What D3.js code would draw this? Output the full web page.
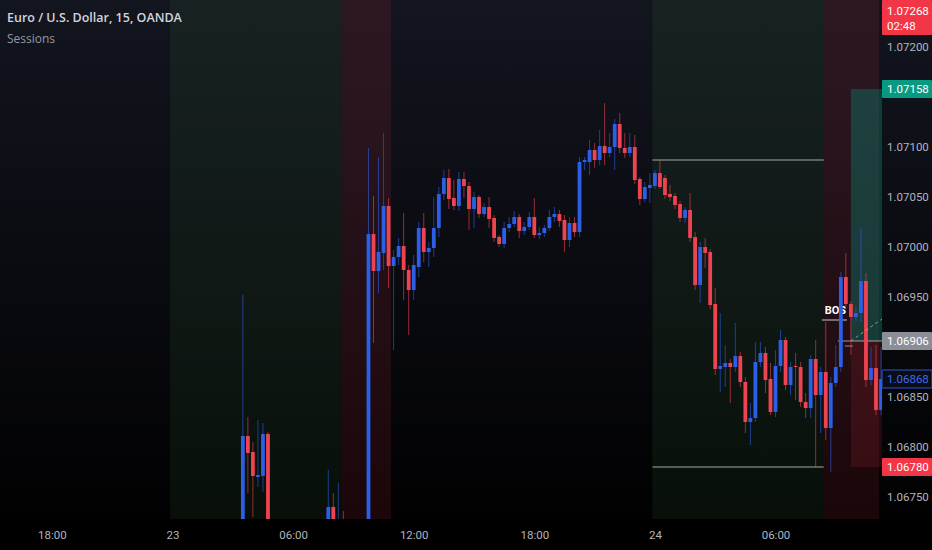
<!DOCTYPE html>
<html><head><meta charset="utf-8">
<script src="https://cdn.jsdelivr.net/npm/d3@7"></script>
<style>html,body{margin:0;padding:0;background:#000;}svg{display:block;}</style>
</head><body>
<svg id="chart" width="932" height="550"></svg>
<script>
// ---------- DATA ----------
const barIndex = [14,15,16,17,18,19,31,32,33,34,
 39,40,41,42,43,44,45,46,47,48,49,50,51,52,53,54,55,56,57,58,59,60,61,62,63,64,65,66,67,68,69,70,71,72,73,74,75,76,77,78,79,80,
 81,82,83,84,85,86,87,88,89,90,91,92,93,94,95,96,97,98,99,100,101,102,103,104,105,106,107,108,109,110,111,112,113,114,115,116,117,118,119,120,
 121,122,123,124,125,126,127,128,129,130,131,132,133,134,135,136,137,138,139,140,141];
const opens = [1.06700,1.06811,1.06795,1.06770,1.06771,1.06813,1.06720,1.06740,1.06680,1.06710,
 1.06650,1.07013,1.06976,1.06994,1.07041,1.06981,1.06990,1.07001,1.06977,1.06957,1.06980,1.07019,1.06995,1.06999,1.07019,1.07053,1.07069,1.07049,1.07041,1.07068,1.07061,1.07038,1.07050,1.07033,1.07040,1.07029,1.07010,1.07003,1.07019,1.07023,1.07030,1.07016,1.07020,1.07030,1.07012,1.07014,1.07019,1.07030,1.07033,1.07027,1.07007,1.07024,
 1.07015,1.07085,1.07085,1.07097,1.07087,1.07101,1.07094,1.07100,1.07123,1.07099,1.07094,1.07100,1.07068,1.07048,1.07059,1.07061,1.07074,1.07069,1.07053,1.07051,1.07043,1.07029,1.07037,1.07010,1.06962,1.07000,1.06995,1.06943,1.06878,1.06880,1.06884,1.06880,1.06891,1.06865,1.06825,1.06829,1.06885,1.06894,1.06868,1.06835,
 1.06881,1.06907,1.06862,1.06881,1.06880,1.06845,1.06839,1.06888,1.06852,1.06875,1.06819,1.06864,1.06880,1.06970,1.06943,1.06930,1.06934,1.06966,1.06867,1.06879,1.06837];
const highs = [1.06952,1.06830,1.06805,1.06827,1.06824,1.06815,1.06777,1.06754,1.06764,1.06736,
 1.07099,1.07051,1.07090,1.07114,1.07049,1.06997,1.07009,1.07034,1.06982,1.06992,1.07025,1.07034,1.07005,1.07050,1.07060,1.07077,1.07078,1.07067,1.07075,1.07075,1.07065,1.07055,1.07052,1.07044,1.07050,1.07032,1.07012,1.07025,1.07030,1.07036,1.07033,1.07025,1.07035,1.07049,1.07020,1.07022,1.07037,1.07040,1.07037,1.07032,1.07030,1.07030,
 1.07090,1.07090,1.07107,1.07104,1.07117,1.07144,1.07114,1.07128,1.07134,1.07114,1.07114,1.07112,1.07070,1.07065,1.07074,1.07077,1.07087,1.07072,1.07062,1.07054,1.07046,1.07040,1.07054,1.07015,1.07005,1.07009,1.06998,1.06959,1.06934,1.06902,1.06888,1.06924,1.06895,1.06870,1.06844,1.06905,1.06905,1.06900,1.06884,1.06897,
 1.06917,1.06910,1.06885,1.06894,1.06885,1.06854,1.06892,1.06907,1.06880,1.06925,1.06870,1.06902,1.06975,1.06994,1.06946,1.06940,1.07019,1.06974,1.06900,1.06902,1.06900];
const lows = [1.06690,1.06754,1.06730,1.06760,1.06755,1.06690,1.06700,1.06690,1.06660,1.06670,
 1.06620,1.06904,1.06954,1.06977,1.06959,1.06897,1.06982,1.06947,1.06912,1.06947,1.06970,1.06985,1.06980,1.06990,1.07010,1.07047,1.07038,1.07037,1.07036,1.07049,1.07017,1.07019,1.07029,1.07030,1.07019,1.07005,1.07000,1.06999,1.07015,1.07020,1.07009,1.07012,1.07017,1.07009,1.07008,1.07010,1.07016,1.07025,1.07020,1.06995,1.07000,1.07010,
 1.07010,1.07077,1.07072,1.07079,1.07082,1.07082,1.07090,1.07077,1.07094,1.07089,1.07090,1.07063,1.07042,1.07045,1.07044,1.07058,1.07058,1.07048,1.07046,1.07038,1.07025,1.07024,1.07005,1.06957,1.06944,1.06979,1.06938,1.06872,1.06855,1.06860,1.06844,1.06875,1.06860,1.06814,1.06802,1.06825,1.06880,1.06854,1.06832,1.06830,
 1.06875,1.06857,1.06852,1.06847,1.06840,1.06829,1.06829,1.06780,1.06814,1.06807,1.06775,1.06860,1.06875,1.06940,1.06892,1.06926,1.06925,1.06860,1.06862,1.06832,1.06832];
const closes = [1.06811,1.06794,1.06771,1.06772,1.06813,1.06700,1.06740,1.06710,1.06700,1.06690,
 1.07013,1.06976,1.06995,1.07041,1.06981,1.06990,1.07001,1.06977,1.06957,1.06982,1.07019,1.06995,1.06999,1.07019,1.07053,1.07069,1.07048,1.07041,1.07068,1.07061,1.07038,1.07050,1.07033,1.07040,1.07028,1.07009,1.07003,1.07019,1.07023,1.07030,1.07016,1.07020,1.07030,1.07012,1.07014,1.07019,1.07030,1.07033,1.07026,1.07007,1.07024,1.07015,
 1.07085,1.07087,1.07097,1.07087,1.07101,1.07094,1.07100,1.07123,1.07099,1.07094,1.07100,1.07067,1.07048,1.07060,1.07062,1.07074,1.07060,1.07052,1.07050,1.07042,1.07029,1.07037,1.07009,1.06962,1.07000,1.06994,1.06942,1.06878,1.06881,1.06884,1.06880,1.06891,1.06865,1.06825,1.06829,1.06885,1.06894,1.06867,1.06835,1.06881,
 1.06907,1.06862,1.06880,1.06880,1.06845,1.06839,1.06888,1.06852,1.06875,1.06819,1.06864,1.06880,1.06970,1.06943,1.06930,1.06934,1.06966,1.06867,1.06879,1.06837,1.06868];

// tick labels (1.06900 and 1.07150 are hidden behind the price boxes in the reference)
const priceTicks = [1.0675,1.068,1.0685,1.0695,1.07,1.0705,1.071,1.072];
const timeTickIndex = [-24,0,24,48,72,96,120];
const timeTickLabels = ["18:00","23","06:00","12:00","18:00","24","06:00"];

const sessionStart = [-0.5,33.5,95.5,129.6];
const sessionEnd   = [33.5,43.5,129.6,140.6];
const sessionType  = ["green","red","green","red"];

const sessionHigh = 1.07087, sessionLow = 1.06780, sessionLineFrom = 95.5, sessionLineTo = 129.6;
const bosLevel = 1.06927, bosFrom = 129.2, bosTo = 134.2;
const entryPrice = 1.06906, targetPrice = 1.07158, stopPrice = 1.06780, positionFrom = 135;
const lastPrice = 1.06868, alertPrice = "1.07268", countdown = "02:48";

// ---------- LAYOUT ----------
const W = 932, H = 550, plotR = 882, plotB = 519;
const svg = d3.select("#chart");
const x = d3.scaleLinear().domain([0, 120]).range([172.5, 172.5 + 120 * 5.025]);
const y = d3.scaleLinear().domain([1.0675, 1.072]).range([497, 47]);
const blue = "#2c5ee6", red = "#ee4350";

const defs = svg.append("defs");
const grad = defs.append("linearGradient").attr("id","bg").attr("x1",0).attr("y1",0).attr("x2",0).attr("y2",1);
grad.append("stop").attr("offset","0%").attr("stop-color","#13151f");
grad.append("stop").attr("offset","55%").attr("stop-color","#090a0f");
grad.append("stop").attr("offset","100%").attr("stop-color","#000000");
defs.append("clipPath").attr("id","plotClip").append("rect").attr("x",0).attr("y",0).attr("width",plotR).attr("height",plotB);

svg.append("rect").attr("width",W).attr("height",H).attr("fill","url(#bg)");
svg.append("rect").attr("x",0).attr("y",plotB).attr("width",W).attr("height",H-plotB).attr("fill","#000");

const plot = svg.append("g").attr("clip-path","url(#plotClip)");

// sessions
plot.selectAll("rect.sess").data(sessionStart.map((s,i)=>({s, e: sessionEnd[i], t: sessionType[i]})))
  .join("rect").attr("class","sess")
  .attr("x", d=>x(d.s)).attr("width", d=>x(d.e)-x(d.s))
  .attr("y",0).attr("height",plotB)
  .attr("fill", d=> d.t==="green" ? "rgba(76,175,80,0.085)" : "rgba(242,54,69,0.11)");

// position tool
plot.append("rect").attr("x",x(positionFrom)).attr("width",plotR-x(positionFrom))
  .attr("y",y(targetPrice)).attr("height",y(entryPrice)-y(targetPrice)).attr("fill","rgba(8,153,129,0.33)");
plot.append("rect").attr("x",x(positionFrom)).attr("width",plotR-x(positionFrom))
  .attr("y",y(entryPrice)).attr("height",y(stopPrice)-y(entryPrice)).attr("fill","rgba(242,54,69,0.13)");

// session high/low lines
[sessionHigh, sessionLow].forEach(p=>{
  plot.append("line").attr("x1",x(sessionLineFrom)).attr("x2",x(sessionLineTo))
    .attr("y1",y(p)).attr("y2",y(p)).attr("stroke","rgba(215,220,218,0.75)").attr("stroke-width",1.2);
});

// BOS
plot.append("line").attr("x1",x(bosFrom)).attr("x2",x(bosTo)).attr("y1",y(bosLevel)).attr("y2",y(bosLevel))
  .attr("stroke","rgba(210,212,215,0.8)").attr("stroke-width",1.2);
plot.append("text").attr("x",x(bosFrom)+3).attr("y",y(bosLevel)-6).text("BOS")
  .attr("fill","#ffffff").attr("font-family","Roboto, sans-serif").attr("font-size",11).attr("font-weight","bold");

// entry lines
plot.append("line").attr("x1",x(132.4)).attr("x2",plotR).attr("y1",y(entryPrice)).attr("y2",y(entryPrice))
  .attr("stroke","rgba(200,200,205,0.75)").attr("stroke-width",1);
plot.append("line").attr("x1",x(133.8)).attr("x2",x(135.4)).attr("y1",y(entryPrice)+5).attr("y2",y(entryPrice)+5)
  .attr("stroke","rgba(200,200,205,0.7)").attr("stroke-width",1);

// candles
const candles = barIndex.map((b,i)=>({b, o:opens[i], h:highs[i], l:lows[i], c:closes[i]}));
const bw = 3.8;
plot.selectAll("line.wick").data(candles).join("line").attr("class","wick")
  .attr("x1",d=>x(d.b)).attr("x2",d=>x(d.b)).attr("y1",d=>y(d.h)).attr("y2",d=>y(d.l))
  .attr("stroke",d=>d.c>=d.o?blue:red).attr("stroke-opacity",0.6).attr("stroke-width",1);
plot.selectAll("rect.body").data(candles).join("rect").attr("class","body")
  .attr("x",d=>x(d.b)-bw/2).attr("width",bw)
  .attr("y",d=>y(Math.max(d.o,d.c))).attr("height",d=>Math.max(1,Math.abs(y(d.o)-y(d.c))))
  .attr("fill",d=>d.c>=d.o?blue:red);

// dashed line of position
plot.append("line").attr("x1",x(positionFrom)).attr("y1",y(entryPrice)).attr("x2",plotR).attr("y2",y(1.06928))
  .attr("stroke","rgba(160,215,190,0.7)").attr("stroke-width",1).attr("stroke-dasharray","3,3");

// ---------- AXES ----------
const yAxis = d3.axisRight(y).tickValues(priceTicks).tickSize(0).tickPadding(0).tickFormat(d3.format(".5f"));
const ya = svg.append("g").attr("transform",`translate(${plotR+5},0)`).call(yAxis);
ya.select(".domain").remove();
ya.selectAll("text").attr("fill","#b2b5be").attr("font-family","Roboto, sans-serif").attr("font-size",11.5);

const xAxis = d3.axisBottom(x).tickValues(timeTickIndex).tickSize(0).tickPadding(0)
  .tickFormat((d,i)=>timeTickLabels[i]);
const xa = svg.append("g").attr("transform",`translate(0,${plotB+12})`).call(xAxis);
xa.select(".domain").remove();
xa.selectAll("text").attr("fill","#b2b5be").attr("font-family","Roboto, sans-serif").attr("font-size",11.5);

// price labels
function priceBox(p, txt, bg, fg, stroke){
  const cy = y(p);
  svg.append("rect").attr("x",plotR).attr("y",cy-9).attr("width",W-plotR).attr("height",18)
    .attr("fill",bg).attr("stroke",stroke||"none").attr("rx",1);
  svg.append("text").attr("x",plotR+5).attr("y",cy+4).text(txt).attr("fill",fg)
    .attr("font-family","Roboto, sans-serif").attr("font-size",11.5);
}
priceBox(targetPrice, d3.format(".5f")(targetPrice), "#089981", "#ffffff");
priceBox(entryPrice, d3.format(".5f")(entryPrice), "#8b8e97", "#ffffff");
priceBox(lastPrice, d3.format(".5f")(lastPrice), "#0b0d16", "#3d6cf0", "#2a55d8");
priceBox(stopPrice, d3.format(".5f")(stopPrice), "#f23645", "#ffffff");
// top alert box (price above range)
svg.append("rect").attr("x",plotR).attr("y",0).attr("width",W-plotR).attr("height",35).attr("fill","#f23645").attr("rx",1);
svg.append("text").attr("x",plotR+5).attr("y",15).text(alertPrice).attr("fill","#fff").attr("font-family","Roboto, sans-serif").attr("font-size",11.5);
svg.append("text").attr("x",plotR+5).attr("y",30).text(countdown).attr("fill","#fff").attr("font-family","Roboto, sans-serif").attr("font-size",11.5);

// legend
svg.append("text").attr("x",7).attr("y",22).text("Euro / U.S. Dollar, 15, OANDA")
  .attr("fill","#d1d4dc").attr("font-family","'Open Sans', sans-serif").attr("font-size",12.5).attr("font-weight",600);
svg.append("text").attr("x",7).attr("y",43).text("Sessions")
  .attr("fill","#9598a1").attr("font-family","'Open Sans', sans-serif").attr("font-size",12);
</script>
</body></html>
